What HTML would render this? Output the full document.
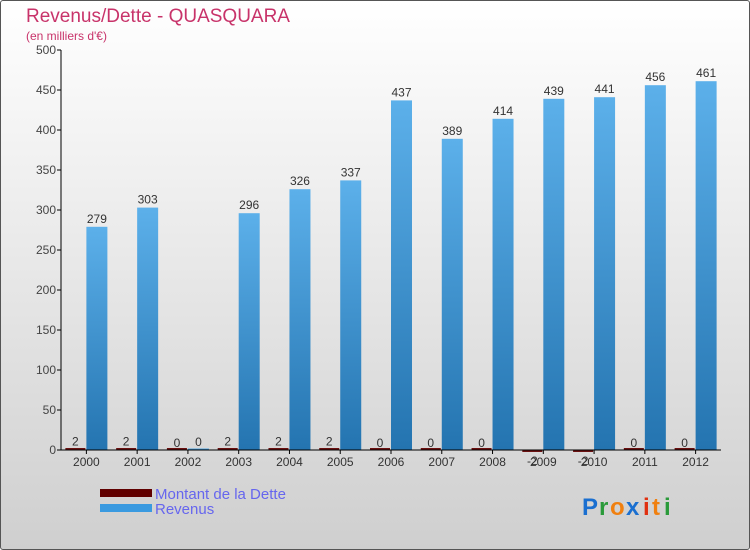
<!DOCTYPE html>
<html><head><meta charset="utf-8"><style>
body{margin:0;width:750px;height:550px;overflow:hidden;font-family:"Liberation Sans",sans-serif}
#c{position:absolute;left:0;top:0;width:748px;height:548px;border:1px solid #555;border-radius:3px;background:linear-gradient(#ffffff,#cfcfcf)}
</style></head><body>
<div id="c"></div>
<svg id="s" width="750" height="550" style="position:absolute;left:0;top:0">
<defs>
<linearGradient id="gr" x1="0" y1="0" x2="0" y2="1"><stop offset="0" stop-color="#5cb0ea"/><stop offset="1" stop-color="#2474b0"/></linearGradient>
</defs>
<text x="26" y="22" font-size="19" fill="#c8336a">Revenus/Dette - QUASQUARA</text>
<text x="26" y="40" font-size="12" fill="#c8336a">(en milliers d'€)</text>
<g id="plot"></g>
<rect x="100" y="489" width="52" height="8" fill="#600000"/>
<text x="155" y="499" font-size="15" fill="#6666ee">Montant de la Dette</text>
<rect x="100" y="504" width="52" height="8" fill="#3a9ae0"/>
<text x="155" y="514" font-size="15" fill="#6666ee">Revenus</text>
<g font-size="24" font-family="Liberation Sans" font-weight="bold">
<text x="582" y="515" fill="#1a6fd0">P</text><text x="599" y="515" fill="#2a9a3a">r</text><text x="610" y="515" fill="#f08010">o</text><text x="626" y="515" fill="#1a6fd0">x</text><text x="643" y="515" fill="#e03010">i</text><text x="652" y="515" fill="#f08010">t</text><text x="664" y="515" fill="#2a9a3a">i</text>
</g>
</svg>
<script>
const years=["2000","2001","2002","2003","2004","2005","2006","2007","2008","2009","2010","2011","2012"];
const dette=[2,2,0,2,2,2,0,0,0,-2,-2,0,0];
const revenus=[279,303,0,296,326,337,437,389,414,439,441,456,461];
const yTicks=[0,50,100,150,200,250,300,350,400,450,500];
const NS="http://www.w3.org/2000/svg";
const X0=61,X1=721,Y0=450,Y1=50,YMAX=500;
const step=(X1-X0)/years.length;
const y=v=>Y0-(v/YMAX)*(Y0-Y1);
const g=document.getElementById('plot');
function mk(t,a,txt){const e=document.createElementNS(NS,t);for(const k in a)e.setAttribute(k,a[k]);if(txt!==undefined)e.textContent=txt;g.appendChild(e);return e;}
years.forEach((yr,i)=>{
 const cx=X0+step*(i+0.5);
 const dv=dette[i],rv=revenus[i];
 let h=Math.max(Math.abs(y(dv)-Y0),2);
 let b=mk('rect',{x:cx-21,y:dv>=0?Y0-h:Y0,width:20,height:h,fill:'#6a1010'});
 
 
 let t=mk('text',{x:cx-11,y:dv>=0?y(dv)-3:Y0+15,'font-size':12,fill:'#333','text-anchor':'middle'},String(dv));
 
 
 let rh=Math.max(Y0-y(rv),rv===0?1.5:0);
 let r=mk('rect',{x:cx,y:Y0-rh,width:21,height:rh,fill:'url(#gr)'});
 
 
 let t2=mk('text',{x:cx+10.5,y:y(rv)-4,'font-size':12,fill:'#333','text-anchor':'middle'},String(rv));
 
 
 let l=mk('text',{x:cx,y:466,'font-size':12,fill:'#333','text-anchor':'middle'},yr);
 
 
 let tk=mk('line',{x1:cx,x2:cx,y1:Y0,y2:Y0+4,stroke:'#000'});
 
 
});
yTicks.forEach(v=>{
 let tk=mk('line',{x1:X0-4,x2:X0,y1:y(v),y2:y(v),stroke:'#000'});
 
 
 let l=mk('text',{x:X0-5,y:y(v)+4,'font-size':12,fill:'#444','text-anchor':'end'},String(v));
 
 
});
let ax=mk('line',{x1:X0,x2:X0,y1:Y1,y2:Y0,stroke:'#000'});


let bx=mk('line',{x1:X0,x2:X1,y1:Y0,y2:Y0,stroke:'#000'});


</script>
</body></html>
